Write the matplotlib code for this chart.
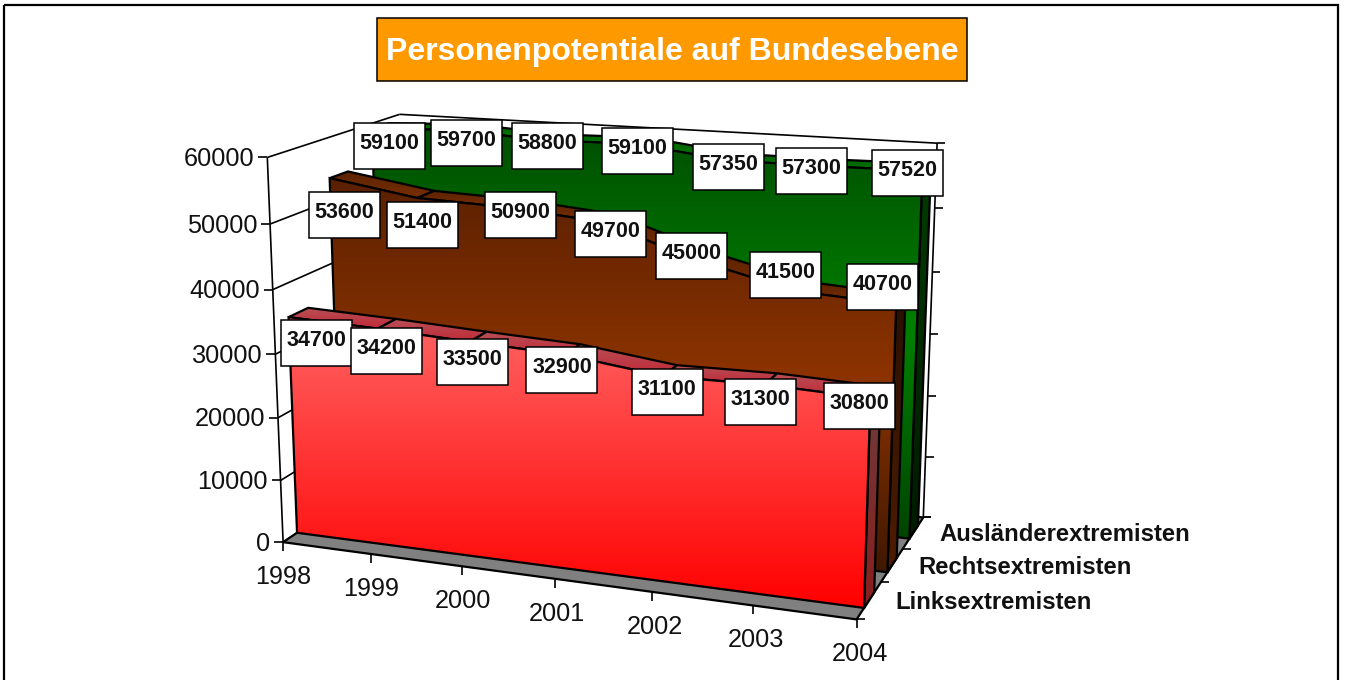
import numpy as np
import matplotlib
matplotlib.use("Agg")
import matplotlib.pyplot as plt
from matplotlib.patches import Polygon, Rectangle

plt.rcParams['font.family'] = ['Liberation Sans', 'DejaVu Sans']

YEARS = ['1998', '1999', '2000', '2001', '2002', '2003', '2004']
LINKS = [34700, 34200, 33500, 32900, 31100, 31300, 30800]
RECHTS = [53600, 51400, 50900, 49700, 45000, 41500, 40700]
AUSLAENDER = [59100, 59700, 58800, 59100, 57350, 57300, 57520]
SERIES_NAMES = ['Linksextremisten', 'Rechtsextremisten', 'Ausländerextremisten']
VALUE_TICKS = [0, 10000, 20000, 30000, 40000, 50000, 60000]
VALUE_MAX = 60000

# corners of the 3d box (x, y, depth in 0..1) and where they land on the page
BOX_CORNERS = [(0, 0, 0), (0, 1, 0), (0, 1, 1), (1, 0, 0), (1, 0, 1), (1, 1, 1)]
PAGE_CORNERS = [(283, 542), (267, 158), (400, 114), (857, 619), (923, 518), (937, 143)]

# data labels were dragged by hand in the original, offset in pixels from the point
LABEL_OFFSETS = [
    [(28, 26), (9, 22), (3, 20), (-3, 15), (4, 16), (-5, 17), (-11, 8)],
    [(15, 37), (5, 27), (13, 8), (10, 12), (-4, -4), (-9, -16), (-14, -17)],
    [(17, 17), (10, 13), (3, 6), (3, 7), (1, 7), (-12, 5), (-15, 2)],
]


def fit_projection():
    rows = []
    for (X, Y, Z), (u, v) in zip(BOX_CORNERS, PAGE_CORNERS):
        rows.append([X, Y, Z, 1, 0, 0, 0, 0, -u * X, -u * Y, -u * Z, -u])
        rows.append([0, 0, 0, 0, X, Y, Z, 1, -v * X, -v * Y, -v * Z, -v])
    return np.linalg.svd(np.array(rows, dtype=float))[2][-1].reshape(3, 4)


PROJ = fit_projection()


def project(year_idx, value, depth):
    p = PROJ @ np.array([year_idx / (len(YEARS) - 1), value / VALUE_MAX, depth, 1.0])
    return p[0] / p[2], p[1] / p[2]


fig = plt.figure(figsize=(13.45, 6.8), dpi=100)
ax = fig.add_axes([0, 0, 1, 1])
ax.set_xlim(0, 1345)
ax.set_ylim(680, 0)
ax.axis('off')

order = [10]


def next_z():
    order[0] += 1
    return order[0]


def gradient_poly(points, colors, lw=1.6):
    # vertical gradient through evenly spaced colours, clipped to the polygon
    points = np.array(points)
    ymin, ymax = points[:, 1].min(), points[:, 1].max()
    stops = np.array([matplotlib.colors.to_rgb(c) for c in colors])
    t = np.linspace(0, 1, 256)
    pos = np.linspace(0, 1, len(colors))
    grad = np.stack([np.interp(t, pos, stops[:, ch]) for ch in range(3)], axis=1)[:, None, :]
    z = next_z()
    im = ax.imshow(grad, extent=(points[:, 0].min(), points[:, 0].max(), ymax, ymin),
                   aspect='auto', zorder=z, interpolation='bilinear')
    patch = Polygon(points, closed=True, facecolor='none', edgecolor='none')
    ax.add_patch(patch)
    im.set_clip_path(patch)
    ax.add_patch(Polygon(points, closed=True, facecolor='none', edgecolor='black', lw=lw, zorder=next_z()))


def line(p0, p1, lw=1.2):
    ax.plot([p0[0], p1[0]], [p0[1], p1[1]], color='black', lw=lw, zorder=5, solid_capstyle='butt')


# page frame
ax.add_patch(Rectangle((4, 5), 1334, 700, facecolor='none', edgecolor='black', lw=1.6, zorder=1))

# left wall, grid lines and value ticks
last = len(YEARS) - 1
line(project(0, 0, 0), project(0, VALUE_MAX, 0))
line(project(0, VALUE_MAX, 1), project(last, VALUE_MAX, 1))
line(project(last, 0, 1), project(last, VALUE_MAX, 1))
for tick in VALUE_TICKS:
    x0, y0 = project(0, tick, 0)
    line((x0, y0), project(0, tick, 1))
    line((x0 - 9, y0), (x0, y0))
    ax.text(x0 - 13, y0 + 1.5, str(tick), ha='right', va='center', fontsize=18.2, color='#111111', zorder=6)
    x1, y1 = project(last, tick, 1)
    line((x1, y1), (x1 + 8, y1))

# floor
floor = [project(0, 0, 0), project(last, 0, 0), project(last, 0, 1), project(0, 0, 1)]
ax.add_patch(Polygon(floor, closed=True, facecolor='#808080', edgecolor='black', lw=1.6, zorder=6))

# year ticks and labels
for i, year in enumerate(YEARS):
    x0, y0 = project(i, 0, 0)
    line((x0, y0), (x0, y0 + 9))
    ax.text(x0 + i * 0.6, y0 + 35, year, ha='center', va='center', fontsize=18.2, color='#111111', zorder=6)

# depth ticks and series names
for k in range(4):
    x0, y0 = project(last, 0, k / 3)
    line((x0, y0), (x0 + 8, y0))
for k, name in enumerate(SERIES_NAMES):
    x0, y0 = project(last, 0, (k + 0.5) / 3)
    ax.text(x0 + 26, y0 + 2, name, ha='left', va='center', fontsize=17.2, fontweight='bold',
            color='#111111', zorder=6)

# slabs, back to front
SLAB_DEPTH = [(0.10, 0.24), (0.43, 0.57), (0.77, 0.91)]
FRONT_COLORS = [('#FF6464', '#FF0000'), ('#5A2000', '#8C3300', '#401800'), ('#004F00', '#008000', '#004400')]
TOP_COLORS = [('#B85055', '#C02838'), ('#5A2200', '#7A2E00'), ('#006000', '#007800')]
SIDE_COLORS = [('#6A3C3C', '#8A1E1E'), ('#2A1000', '#4E1C00'), ('#003C00', '#001A00')]
ALL_VALUES = [LINKS, RECHTS, AUSLAENDER]

for k in [2, 1, 0]:
    values = ALL_VALUES[k]
    d0, d1 = SLAB_DEPTH[k]
    # top strips
    for i in range(last):
        quad = [project(i, values[i], d0), project(i + 1, values[i + 1], d0),
                project(i + 1, values[i + 1], d1), project(i, values[i], d1)]
        gradient_poly(quad, TOP_COLORS[k])
    # right side
    side = [project(last, values[last], d0), project(last, values[last], d1),
            project(last, 0, d1), project(last, 0, d0)]
    gradient_poly(side, SIDE_COLORS[k])
    # front face
    front = [project(i, values[i], d0) for i in range(last + 1)]
    front += [project(last, 0, d0), project(0, 0, d0)]
    gradient_poly(front, FRONT_COLORS[k])

# value labels
for k in range(3):
    for i, value in enumerate(ALL_VALUES[k]):
        x0, y0 = project(i, value, SLAB_DEPTH[k][0])
        cx, cy = x0 + LABEL_OFFSETS[k][i][0], y0 + LABEL_OFFSETS[k][i][1]
        ax.add_patch(Rectangle((cx - 35.5, cy - 23), 71, 46, facecolor='white', edgecolor='black',
                               lw=1.1, zorder=500 + k))
        ax.text(cx, cy - 2.5, str(value), ha='center', va='center', fontsize=15.5, fontweight='bold',
                color='#111111', zorder=501 + k)

# title
ax.add_patch(Rectangle((377, 18), 590, 63, facecolor='#FF9900', edgecolor='black', lw=1.1, zorder=600))
ax.text(672, 52, 'Personenpotentiale auf Bundesebene', ha='center', va='center', fontsize=23,
        fontweight='bold', color='white', zorder=601)

fig.savefig('out.png', dpi=100)
